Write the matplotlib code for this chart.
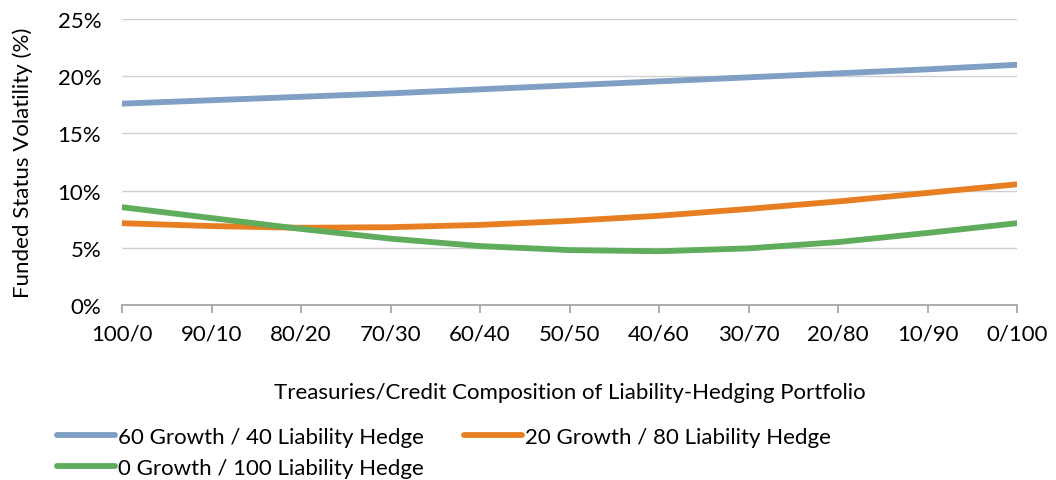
import matplotlib
matplotlib.use("Agg")
import matplotlib.pyplot as plt
from matplotlib.ticker import FuncFormatter

plt.rcParams["font.family"] = ["Lato", "DejaVu Sans"]

categories = ["100/0", "90/10", "80/20", "70/30", "60/40", "50/50",
              "40/60", "30/70", "20/80", "10/90", "0/100"]
growth_60 = [17.6, 17.9, 18.2, 18.5, 18.85, 19.2, 19.55, 19.9, 20.25, 20.6, 21.0]
growth_20 = [7.15, 6.9, 6.75, 6.8, 7.0, 7.35, 7.8, 8.4, 9.05, 9.8, 10.55]
growth_0 = [8.55, 7.6, 6.65, 5.8, 5.15, 4.8, 4.7, 4.95, 5.5, 6.3, 7.15]
labels = ["60 Growth / 40 Liability Hedge",
          "20 Growth / 80 Liability Hedge",
          "0 Growth / 100 Liability Hedge"]
colors = ["#7F9FC5", "#E87E22", "#5FAC5C"]

FS = 16

fig = plt.figure(figsize=(10.56, 4.81), dpi=100)
ax = fig.add_axes([122 / 1056, 1 - 306 / 481, (1017 - 122) / 1056, (306 - 20) / 481])

x = list(range(len(categories)))
lines = []
for series, lab, col in zip([growth_60, growth_20, growth_0], labels, colors):
    ln, = ax.plot(x, series, color=col, lw=4.2, label=lab, solid_capstyle="round")
    lines.append(ln)

ax.set_xlim(0, len(categories) - 1)
ax.set_ylim(0, 25)
ax.set_yticks([0, 5, 10, 15, 20, 25])
ax.yaxis.set_major_formatter(FuncFormatter(lambda v, p: f"{v:.0f}%"))
ax.set_xticks(x)
ax.set_xticklabels(categories)
ax.grid(axis="y", color="#D0D0D0", lw=1)
ax.set_axisbelow(True)
for s in ["top", "right", "left"]:
    ax.spines[s].set_visible(False)
ax.spines["bottom"].set_color("#A0A0A0")
ax.spines["bottom"].set_linewidth(1.2)
ax.tick_params(axis="y", length=0, pad=15, labelsize=FS)
ax.tick_params(axis="x", length=6, color="#A0A0A0", width=1.2, pad=7, labelsize=FS)

ax.set_ylabel("Funded Status Volatility (%)", fontsize=FS)
ax.yaxis.set_label_coords(-(122 - 33) / 895, 0.5)
ax.set_xlabel("Treasuries/Credit Composition of Liability-Hedging Portfolio", fontsize=FS)
ax.xaxis.set_label_coords(0.5, -(383 - 306) / 286)

# column-first fill: col 1 = 60/40 and 0/100, col 2 = 20/80
order = [0, 2, 1]
fig.legend([lines[i] for i in order], [labels[i] for i in order],
           loc="upper left", bbox_to_anchor=(48 / 1056, 1 - 419 / 481), ncol=2,
           frameon=False, fontsize=FS, handlelength=2.6, handletextpad=0.15,
           columnspacing=1.8, labelspacing=0.5, borderaxespad=0)

fig.savefig("out.png", dpi=100)
